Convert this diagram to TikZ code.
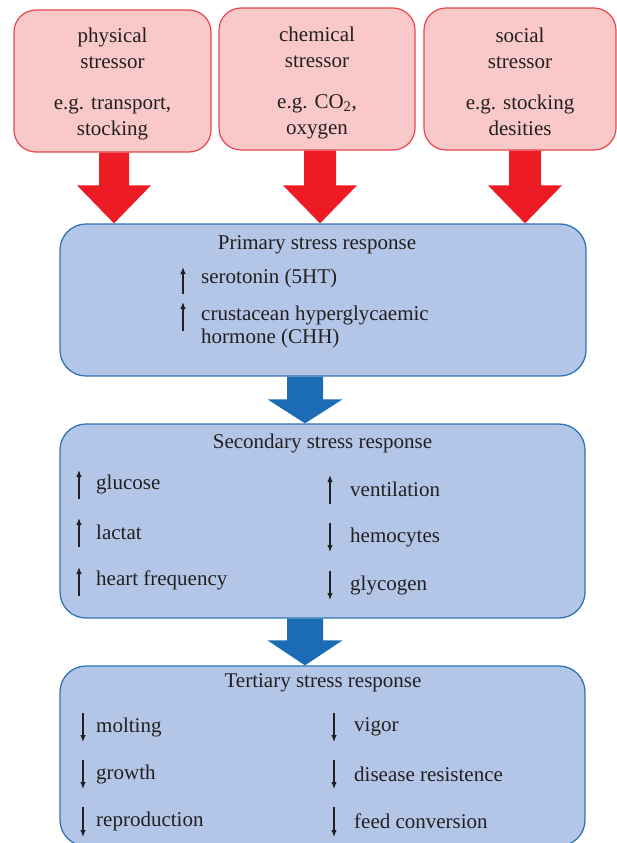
\documentclass[tikz,border=0pt]{standalone}
\usepackage{fontspec}
\setmainfont{Liberation Serif}
\usetikzlibrary{calc,arrows.meta}
\definecolor{pinkfill}{HTML}{F9C9CA}
\definecolor{pinkline}{HTML}{E8474F}
\definecolor{redarr}{HTML}{ED1C24}
\definecolor{bluefill}{HTML}{B4C6E7}
\definecolor{blueline}{HTML}{2E75B6}
\definecolor{bluearr}{HTML}{1B6CB5}
\definecolor{txt}{HTML}{231F20}
% #1 x, #2 from node, #3 to node, #4 colour, #5 half shaft, #6 half head, #7 head length
\newcommand\blockarrow[7]{%
  \path (#1,0) coordinate (bax);
  \fill[#4] let \p1=(bax |- #2.south), \p2=(bax |- #3.north) in
    (\x1-#5pt,\y1) -- (\x1+#5pt,\y1) -- (\x1+#5pt,\y2+#7pt) -- (\x1+#6pt,\y2+#7pt)
    -- (\x2,\y2) -- (\x1-#6pt,\y2+#7pt) -- (\x1-#5pt,\y2+#7pt) -- cycle;}
\tikzset{
  redbox/.style={draw=pinkline, fill=pinkfill, line width=1.2pt, rounded corners=22pt, inner sep=0pt},
  redtxt/.style={align=center, text=txt, inner sep=0pt},
  bluebox/.style={draw=blueline, fill=bluefill, line width=1.3pt, rounded corners=26pt, inner sep=0pt},
  lbl/.style={text=txt, inner sep=0pt, anchor=west, align=left},
  ttl/.style={text=txt, inner sep=0pt},
  updown/.style={line width=1.2pt, draw=txt, -{Latex[length=7pt,width=5.5pt]}},
}
\begin{document}
\begin{tikzpicture}[x=1pt,y=-1pt,font=\fontsize{21}{25.5}\selectfont]
\useasboundingbox (0,0) rectangle (617,843);
\clip (0,0) rectangle (617,843);
% stressor boxes
\node[redbox, minimum width=197pt, minimum height=142pt] (s1) at (112.5,81) {};
\node[redbox, minimum width=196pt, minimum height=142pt] (s2) at (317,79) {};
\node[redbox, minimum width=192pt, minimum height=142pt] (s3) at (520,79) {};
\node[redtxt] (s1t) at (112.5,84) {physical\\stressor\\[16pt]e.g. transport,\\stocking};
\node[redtxt] (s2t) at (317,83) {chemical\\stressor\\[16pt]e.g. CO\textsubscript{2},\\oxygen};
\node[redtxt] (s3t) at (520,82) {social\\stressor\\[16pt]e.g. stocking\\desities};
% response boxes
\node[bluebox, minimum width=526pt, minimum height=152pt] (prim) at (323,300) {};
\node[bluebox, minimum width=525pt, minimum height=194pt] (sec) at (322.5,521) {};
\node[bluebox, minimum width=525pt, minimum height=180pt] (ter) at (322.5,756) {};
% block arrows
\blockarrow{114}{s1}{prim}{redarr}{15}{37}{38}
\blockarrow{320}{s2}{prim}{redarr}{16}{37}{38}
\blockarrow{525}{s3}{prim}{redarr}{16}{37}{38}
\blockarrow{305}{prim}{sec}{bluearr}{18}{37.5}{24}
\blockarrow{305}{sec}{ter}{bluearr}{18}{37.5}{25}
% primary
\node[ttl] (pt) at (317,245) {Primary stress response};
\node[lbl] (p1) at (201,278) {serotonin (5HT)};
\node[lbl, font=\fontsize{21}{23.5}\selectfont] (p2) at (201,327) {crustacean hyperglycaemic\\hormone (CHH)};
\draw[updown] (183,294) -- (183,267);
\draw[updown] (183,331) -- (183,302);
% secondary
\node[ttl] (st) at (322.5,443) {Secondary stress response};
\node[lbl] (a1) at (96,484) {glucose};
\node[lbl] (a2) at (96,532) {lactat};
\node[lbl] (a3) at (96,580) {heart frequency};
\node[lbl] (b1) at (350,489) {ventilation};
\node[lbl] (b2) at (350,537) {hemocytes};
\node[lbl] (b3) at (350,585) {glycogen};
\draw[updown] (79,499) -- (79,470);
\draw[updown] (79,547) -- (79,518);
\draw[updown] (79,596) -- (79,567);
\draw[updown] (330,504) -- (330,475);
\draw[updown] (330,523) -- (330,552);
\draw[updown] (330,571) -- (330,600);
% tertiary
\node[ttl] (tt) at (323,683) {Tertiary stress response};
\node[lbl] (c1) at (96,727) {molting};
\node[lbl] (c2) at (96,774) {growth};
\node[lbl] (c3) at (96,821) {reproduction};
\node[lbl] (d1) at (354,727) {vigor};
\node[lbl] (d2) at (354,774) {disease resistence};
\node[lbl] (d3) at (354,821) {feed conversion};
\draw[updown] (83,713) -- (83,742);
\draw[updown] (83,760) -- (83,789);
\draw[updown] (83,807) -- (83,837);
\draw[updown] (334,713) -- (334,742);
\draw[updown] (334,760) -- (334,789);
\draw[updown] (334,807) -- (334,837);
\end{tikzpicture}
\end{document}
